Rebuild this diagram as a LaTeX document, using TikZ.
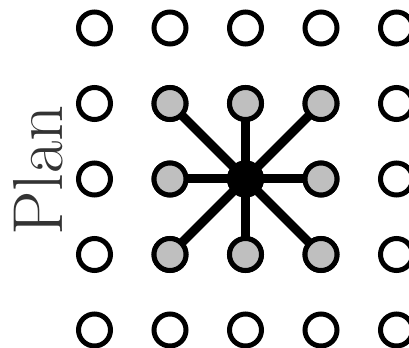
\documentclass[tikz,border=0pt]{standalone}
\usepackage{tikz}
\usetikzlibrary{backgrounds}
\tikzset{
  dot/.style={circle,draw=black,line width=5bp,minimum size=32bp,inner sep=0pt,fill=white},
  nbr/.style={dot,fill=gray!50},
  hub/.style={dot,fill=black},
  spoke/.style={line width=9bp,black}
}
\begin{document}
\begin{tikzpicture}[x=1bp,y=1bp]
  \useasboundingbox (0,0) rectangle (409,348);
  % grid of points, column i, row j (row 1 at top)
  \foreach \i in {1,...,5} {
    \foreach \j in {1,...,5} {
      \node[dot] (n-\i-\j) at ({94.5+75.5*(\i-1)},{320-75.5*(\j-1)}) {};
    }
  }
  % the eight neighbours and the hub
  \foreach \i/\j in {2/2,3/2,4/2,2/3,4/3,2/4,3/4,4/4} {
    \node[nbr] at (n-\i-\j) {};
  }
  \node[hub] (hub) at (n-3-3) {};
  \begin{scope}[on background layer]
    \foreach \i/\j in {2/2,3/2,4/2,2/3,4/3,2/4,3/4,4/4} {
      \draw[spoke] (hub.center) -- (n-\i-\j.center);
    }
  \end{scope}
  \node[rotate=90,anchor=base,text=black!80,font=\fontsize{71}{75}\selectfont] (plan) at (62,177.5) {Plan};
\end{tikzpicture}
\end{document}
